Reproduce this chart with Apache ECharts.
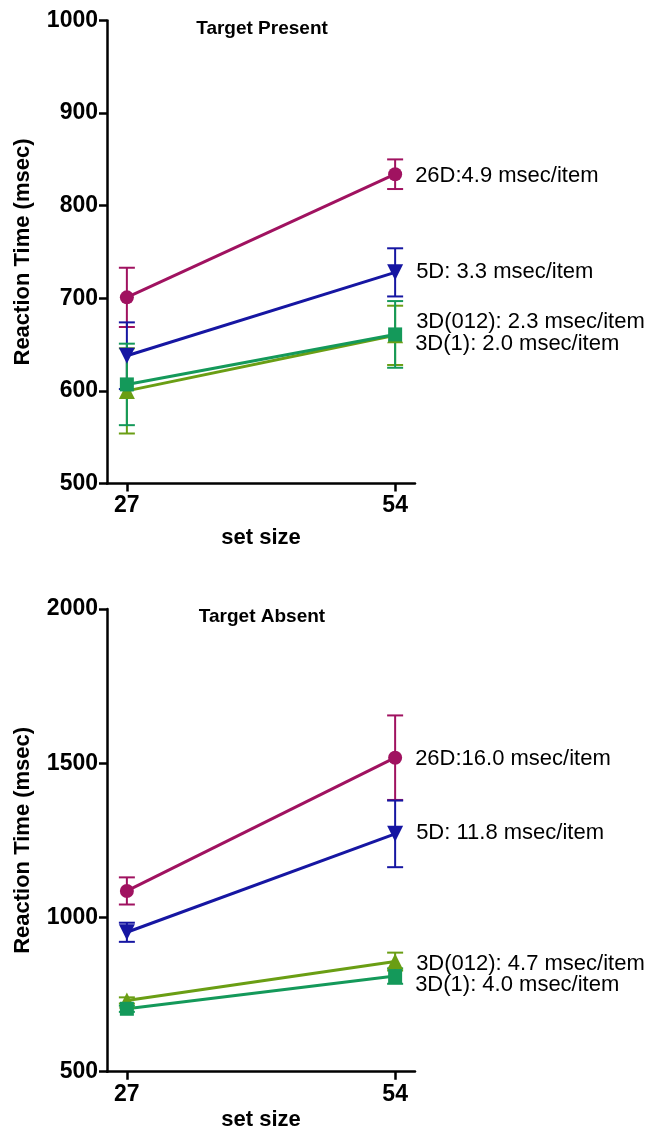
<!DOCTYPE html>
<html><head><meta charset="utf-8">
<script src="https://cdn.jsdelivr.net/npm/echarts@6/dist/echarts.min.js"></script>
<style>html,body{margin:0;padding:0;background:#fff}#c{width:648px;height:1134px}</style>
</head><body><div id="c"></div>
<script>
// ---- data ----
const setSizes = [27, 54];
const seriesNames = ['26D', '5D', '3D(012)', '3D(1)'];

// Target Present
const present26D = [701, 834];
const present26DErr = [32, 16];
const present5D = [638, 728];
const present5DErr = [36, 26];
const present3D012 = [600, 660];
const present3D012Err = [46, 32];
const present3D1 = [607, 661];
const present3D1Err = [44, 36];
const presentSlopeLabels = ['26D:4.9 msec/item', '5D: 3.3 msec/item', '3D(012): 2.3 msec/item', '3D(1): 2.0 msec/item'];
const presentYTicks = [500, 600, 700, 800, 900, 1000];

// Target Absent
const absent26D = [1086, 1518];
const absent26DErr = [44, 137];
const absent5D = [952, 1271];
const absent5DErr = [31, 108];
const absent3D012 = [731, 857];
const absent3D012Err = [10, 29];
const absent3D1 = [704, 810];
const absent3D1Err = [10, 25];
const absentSlopeLabels = ['26D:16.0 msec/item', '5D: 11.8 msec/item', '3D(012): 4.7 msec/item', '3D(1): 4.0 msec/item'];
const absentYTicks = [500, 1000, 1500, 2000];

const xTicks = [27, 54];
const xRange = [25, 56];
const panelTitles = ['Target Present', 'Target Absent'];

// ---- style ----
const colors = ['#a01260', '#1616a2', '#6a9e14', '#14995a'];
const symbols = ['circle', 'triangle', 'triangle', 'rect'];
const symbolRotates = [0, 180, 0, 0];
const symbolSizes = [14, 16, 16, 14];
const labelOffsets = [
  [[0, 2], [0, 0], [0, -13], [0, 10]],
  [[0, 1], [0, -1], [0, 2], [0, 9]]
];

const panels = [
  { means: [present26D, present5D, present3D012, present3D1],
    errs: [present26DErr, present5DErr, present3D012Err, present3D1Err],
    labels: presentSlopeLabels, yTicks: presentYTicks },
  { means: [absent26D, absent5D, absent3D012, absent3D1],
    errs: [absent26DErr, absent5DErr, absent3D012Err, absent3D1Err],
    labels: absentSlopeLabels, yTicks: absentYTicks }
];

const grids = [
  { left: 107, width: 308, top: 20.5, height: 463 },
  { left: 107, width: 308, top: 609, height: 462.7 }
];
const xNameGaps = [43, 37];

const FONT = '"Liberation Sans", Arial, sans-serif';

function errRender(params, api) {
  const x = api.value(0), lo = api.value(1), hi = api.value(2);
  const pLo = api.coord([x, lo]), pHi = api.coord([x, hi]);
  const w = 8;
  const style = { stroke: api.visual('color'), lineWidth: 2 };
  return { type: 'group', children: [
    { type: 'line', shape: { x1: pLo[0], y1: pLo[1], x2: pHi[0], y2: pHi[1] }, style: style },
    { type: 'line', shape: { x1: pLo[0] - w, y1: pLo[1], x2: pLo[0] + w, y2: pLo[1] }, style: style },
    { type: 'line', shape: { x1: pHi[0] - w, y1: pHi[1], x2: pHi[0] + w, y2: pHi[1] }, style: style }
  ]};
}

const xAxes = [], yAxes = [], series = [], graphics = [];
panels.forEach((p, gi) => {
  const yt = p.yTicks;
  xAxes.push({
    type: 'value', gridIndex: gi, min: xRange[0], max: xRange[1],
    axisLine: { show: true, onZero: false, lineStyle: { color: '#000', width: 2.5 } },
    axisTick: { show: true, customValues: xTicks, length: 8, lineStyle: { color: '#000', width: 2.5 } },
    axisLabel: { customValues: xTicks, color: '#000', fontFamily: FONT, fontWeight: 'bold', fontSize: 23, margin: 11,
      formatter: v => String(v) },
    splitLine: { show: false },
    name: 'set size', nameLocation: 'middle', nameGap: xNameGaps[gi],
    nameTextStyle: { color: '#000', fontFamily: FONT, fontWeight: 'bold', fontSize: 22 }
  });
  yAxes.push({
    type: 'value', gridIndex: gi, min: yt[0], max: yt[yt.length - 1], interval: yt[1] - yt[0],
    axisLine: { show: true, lineStyle: { color: '#000', width: 2.5 } },
    axisTick: { show: true, length: 8, lineStyle: { color: '#000', width: 2.5 } },
    axisLabel: { color: '#000', fontFamily: FONT, fontWeight: 'bold', fontSize: 23, margin: 9,
      formatter: v => String(v) },
    splitLine: { show: false },
    name: 'Reaction Time (msec)', nameLocation: 'middle', nameRotate: 90, nameGap: 73,
    nameTextStyle: { color: '#000', fontFamily: FONT, fontWeight: 'bold', fontSize: 22 }
  });
  p.means.forEach((m, si) => {
    const e = p.errs[si];
    series.push({
      type: 'custom', name: seriesNames[si] + ' err', xAxisIndex: gi, yAxisIndex: gi,
      renderItem: errRender, itemStyle: { color: colors[si] },
      encode: { x: 0, y: [1, 2] },
      data: setSizes.map((x, i) => [x, m[i] - e[i], m[i] + e[i]]),
      silent: true
    });
    series.push({
      type: 'line', name: seriesNames[si], xAxisIndex: gi, yAxisIndex: gi,
      symbol: symbols[si], symbolRotate: symbolRotates[si], symbolSize: symbolSizes[si],
      lineStyle: { color: colors[si], width: 3 },
      itemStyle: { color: colors[si] },
      animation: false,
      data: setSizes.map((x, i) => {
        const item = { value: [x, m[i]] };
        if (i === setSizes.length - 1) {
          item.label = {
            show: true, position: 'right', distance: 13, offset: labelOffsets[gi][si],
            formatter: p.labels[si], color: '#000', fontFamily: FONT, fontSize: 22
          };
        }
        return item;
      })
    });
  });
  graphics.push({
    type: 'text', x: 262, y: gi === 0 ? 29 : 617,
    style: { text: panelTitles[gi], fill: '#000', font: 'bold 19px "Liberation Sans", Arial, sans-serif', align: 'center', verticalAlign: 'middle' }
  });
});

const chart = echarts.init(document.getElementById('c'), null, { renderer: 'canvas' });
chart.setOption({
  animation: false,
  backgroundColor: '#fff',
  grid: grids,
  xAxis: xAxes,
  yAxis: yAxes,
  series: series,
  graphic: graphics
});
</script>
</body></html>
